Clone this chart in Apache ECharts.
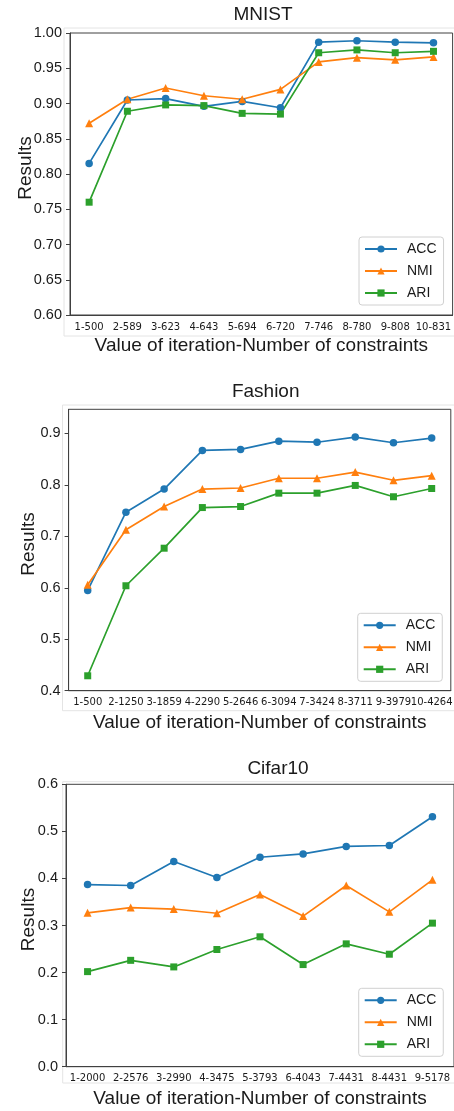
<!DOCTYPE html>
<html>
<head>
<meta charset="utf-8">
<script src="https://cdn.jsdelivr.net/npm/echarts@6/dist/echarts.min.js"></script>
<style>
  html, body { margin: 0; padding: 0; background: #fff; }
  #main { width: 454px; height: 1111px; }
</style>
</head>
<body>
<div id="main"></div>
<script>
// values
var mnistCats = ['1-500', '2-589', '3-623', '4-643', '5-694', '6-720', '7-746', '8-780', '9-808', '10-831'];
var mnistAcc = [0.815, 0.905, 0.907, 0.896, 0.903, 0.894, 0.987, 0.989, 0.987, 0.986];
var mnistNmi = [0.872, 0.906, 0.922, 0.911, 0.906, 0.920, 0.959, 0.965, 0.962, 0.966];
var mnistAri = [0.760, 0.889, 0.898, 0.897, 0.886, 0.885, 0.972, 0.976, 0.972, 0.974];

var fashionCats = ['1-500', '2-1250', '3-1859', '4-2290', '5-2646', '6-3094', '7-3424', '8-3711', '9-3979', '10-4264'];
var fashionAcc = [0.595, 0.747, 0.792, 0.867, 0.869, 0.885, 0.883, 0.893, 0.882, 0.891];
var fashionNmi = [0.606, 0.713, 0.758, 0.792, 0.794, 0.813, 0.813, 0.825, 0.809, 0.818];
var fashionAri = [0.429, 0.604, 0.677, 0.756, 0.758, 0.784, 0.784, 0.799, 0.777, 0.793];

var cifarCats = ['1-2000', '2-2576', '3-2990', '4-3475', '5-3793', '6-4043', '7-4431', '8-4431', '9-5178'];
var cifarAcc = [0.387, 0.385, 0.436, 0.402, 0.445, 0.452, 0.468, 0.470, 0.531];
var cifarNmi = [0.327, 0.338, 0.335, 0.326, 0.366, 0.320, 0.385, 0.329, 0.397];
var cifarAri = [0.202, 0.226, 0.212, 0.249, 0.276, 0.217, 0.261, 0.239, 0.305];

var names = ['ACC', 'NMI', 'ARI'];
var colors = ['#1f77b4', '#ff7f0e', '#2ca02c'];
var symbols = ['circle', 'triangle', 'rect'];
var symSizes = [7.5, 8, 7];

var axisColor = '#404040';
var textColor = '#1a1a1a';
var font = 'Liberation Sans, Arial, sans-serif';

var panels = [
    { title: 'MNIST', cats: mnistCats, vals: [mnistAcc, mnistNmi, mnistAri],
      grid: [70, 33, 382.6, 282], y: [0.6, 1.0, 0.05, 2], titlePos: [263, 15],
      yGap: 34.5, xGap: 21, legend: [359, 237], box: [64, 28, 392, 308] },
    { title: 'Fashion', cats: fashionCats, vals: [fashionAcc, fashionNmi, fashionAri],
      grid: [68.6, 409.3, 382.2, 281.4], y: [0.4, 0.947, 0.1, 1], titlePos: [265.7, 391.7],
      yGap: 30, xGap: 23, legend: [357.7, 613.3], box: [62.5, 405, 393, 305.7] },
    { title: 'Cifar10', cats: cifarCats, vals: [cifarAcc, cifarNmi, cifarAri],
      grid: [66, 784.3, 388, 282.4], y: [0, 0.6, 0.1, 1], titlePos: [278, 768.3],
      yGap: 27.5, xGap: 23, legend: [358.7, 988.3], box: [62.7, 781.7, 393, 301.3] }
];

var grids = [], xAxes = [], yAxes = [], series = [], legends = [], graphics = [];

panels.forEach(function (p, i) {
    grids.push({
        left: p.grid[0], top: p.grid[1], width: p.grid[2], height: p.grid[3],
        show: true, borderColor: axisColor, borderWidth: 1, backgroundColor: 'transparent',
        outerBoundsMode: 'none'
    });
    xAxes.push({
        type: 'category', gridIndex: i, data: p.cats, boundaryGap: true,
        name: 'Value of iteration-Number of constraints', nameLocation: 'middle', nameGap: p.xGap,
        nameMoveOverlap: false,
        nameTextStyle: { fontFamily: font, fontSize: 19, color: textColor },
        axisLine: { lineStyle: { color: axisColor, width: 1 } },
        axisTick: { alignWithLabel: true, length: 4, lineStyle: { color: axisColor } },
        axisLabel: { interval: 0, hideOverlap: false, margin: 7, fontFamily: 'DejaVu Sans', fontSize: 10, color: textColor },
        splitLine: { show: false }
    });
    yAxes.push({
        type: 'value', gridIndex: i, min: p.y[0], max: p.y[1], interval: p.y[2],
        name: 'Results', nameLocation: 'middle', nameGap: p.yGap,
        nameMoveOverlap: false,
        nameTextStyle: { fontFamily: font, fontSize: 19, color: textColor, padding: [0, 0, 0, 12] },
        axisLine: { show: true, lineStyle: { color: axisColor, width: 1 } },
        axisTick: { show: true, length: 4, lineStyle: { color: axisColor } },
        axisLabel: {
            margin: 8, fontFamily: font, fontSize: 14.5, color: textColor, showMaxLabel: i !== 1,
            formatter: function (v) { return v.toFixed(p.y[3]); }
        },
        splitLine: { show: false }
    });
    names.forEach(function (n, k) {
        series.push({
            name: n, type: 'line', xAxisIndex: i, yAxisIndex: i,
            data: p.vals[k], symbol: symbols[k], symbolSize: symSizes[k],
            showSymbol: true, showAllSymbol: true,
            lineStyle: { color: colors[k], width: 1.7 },
            itemStyle: { color: colors[k] },
            emphasis: { disabled: true }
        });
    });
    legends.push({
        data: names, orient: 'vertical', left: p.legend[0], top: p.legend[1],
        itemWidth: 32, itemHeight: 9, itemGap: 8,
        padding: [5, 7, 5, 5],
        backgroundColor: '#fff', borderColor: '#d0d0d0', borderWidth: 1, borderRadius: 3,
        selectedMode: false,
        textStyle: { fontFamily: font, fontSize: 14, color: textColor, padding: [0, 0, 0, 5] }
    });
    graphics.push({
        type: 'rect', silent: true, z: -1,
        shape: { x: p.box[0], y: p.box[1], width: p.box[2], height: p.box[3] },
        style: { fill: null, stroke: '#e4e4e4', lineWidth: 1 }
    });
    graphics.push({
        type: 'text', silent: true, x: p.titlePos[0], y: p.titlePos[1],
        style: { text: p.title, font: '19px ' + font, fill: textColor, align: 'center', verticalAlign: 'middle' }
    });
});

var chart = echarts.init(document.getElementById('main'), null, { renderer: 'canvas' });
chart.setOption({
    animation: false,
    backgroundColor: '#fff',
    textStyle: { fontFamily: font },
    grid: grids,
    xAxis: xAxes,
    yAxis: yAxes,
    legend: legends,
    series: series,
    graphic: graphics
});
</script>
</body>
</html>
